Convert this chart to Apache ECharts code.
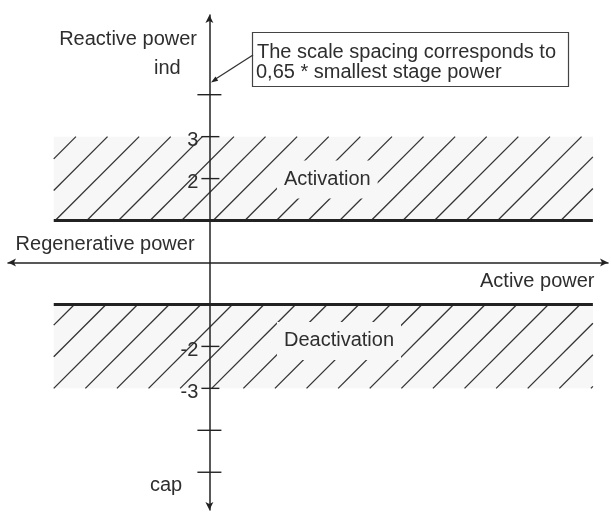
<!DOCTYPE html>
<html><head><meta charset="utf-8">
<script src="https://cdn.jsdelivr.net/npm/echarts@6/dist/echarts.min.js"></script>
<style>html,body{margin:0;padding:0;background:#fff;}#c{width:611px;height:518px;}</style>
</head><body><div id="c"></div>
<script>
// ---- data ----
const xRange = [-4.8, 9.5];
const yRange = [-5.9, 5.9];
const bandNames = ['Activation', 'Deactivation'];
const bandLow = [1, -3];
const bandHigh = [3, -1];
const bandXStart = [-3.71, -3.71];
const bandXEnd = [9.14, 9.14];
const bandEdge = [1, -1];
const tickValues = [4, 3, 2, -2, -3, -4, -5];
const tickLabels = ['', '3', '2', '-2', '-3', '', ''];

// ---- layout / style ----
const FONT = '20px "Liberation Sans", Arial, sans-serif';
const TEXT = '#2e2e2e';
const LINE = '#222';
const BAND_FILL = '#f7f7f7';
const HATCH_SPACING = 31.6;
const HATCH_PHASE = [1.5, 0];
const BAND_LABEL_X = 1.61;
const BAND_LABEL_Y = [1.98, -1.87];

const chart = echarts.init(document.getElementById('c'), null, {renderer: 'canvas'});

function renderBand(params, api) {
  const i = params.dataIndex;
  const p1 = api.coord([bandXStart[i], bandHigh[i]]);
  const p2 = api.coord([bandXEnd[i], bandLow[i]]);
  const xL = p1[0], yT = p1[1], xR = p2[0], yB = p2[1];
  const children = [{type: 'rect', shape: {x: xL, y: yT, width: xR - xL, height: yB - yT}, style: {fill: BAND_FILL}}];
  const s = HATCH_SPACING;
  const c0 = xL + HATCH_PHASE[i] + yB;
  const kmin = -Math.ceil((yB - yT) / s) - 1;
  const kmax = Math.ceil((xR - xL) / s) + 1;
  for (let k = kmin; k <= kmax; k++) {
    const K = c0 + k * s;
    const y1 = Math.max(yT, K - xR);
    const y2 = Math.min(yB, K - xL);
    if (y2 - y1 > 1) {
      children.push({type: 'line', shape: {x1: K - y1, y1: y1, x2: K - y2, y2: y2},
        style: {stroke: '#333', lineWidth: 1.3}});
    }
  }
  const e = api.coord([bandXStart[i], bandEdge[i]]);
  children.push({type: 'line', shape: {x1: xL, y1: e[1], x2: xR, y2: e[1]}, style: {stroke: LINE, lineWidth: 3}});
  const lp = api.coord([BAND_LABEL_X, BAND_LABEL_Y[i]]);
  children.push({type: 'text', x: lp[0], y: lp[1], style: {text: bandNames[i], font: FONT, fill: TEXT,
    align: 'left', verticalAlign: 'middle', backgroundColor: BAND_FILL, padding: [9, 7]}});
  return {type: 'group', children: children};
}

function renderTick(params, api) {
  const i = params.dataIndex;
  const p = api.coord([0, tickValues[i]]);
  const lab = tickLabels[i];
  const l = lab ? 8 : 12, r = lab ? 10 : 12;
  const children = [{type: 'line', shape: {x1: p[0] - l, y1: p[1], x2: p[0] + r, y2: p[1]}, style: {stroke: LINE, lineWidth: 1.4}}];
  if (lab) {
    children.push({type: 'text', x: p[0] - 11, y: p[1] + 4, style: {text: lab, font: FONT, fill: TEXT, align: 'right', verticalAlign: 'middle'}});
  }
  return {type: 'group', children: children};
}

function txt(t, x, y, align) {
  return {type: 'text', x: x, y: y, z: 20, style: {text: t, font: FONT, fill: TEXT, align: align || 'left', verticalAlign: 'middle'}};
}

const axisCommon = {
  type: 'value', z: 5,
  axisLine: {show: true, onZero: true, symbol: ['arrow', 'arrow'], symbolSize: [6, 8], lineStyle: {color: LINE, width: 1.5}},
  axisTick: {show: false}, axisLabel: {show: false}, splitLine: {show: false}
};

chart.setOption({
  animation: false,
  backgroundColor: '#fff',
  grid: {left: 8, right: 3, top: 15, bottom: 8},
  xAxis: Object.assign({}, axisCommon, {min: xRange[0], max: xRange[1]}),
  yAxis: Object.assign({}, axisCommon, {min: yRange[0], max: yRange[1]}),
  series: [
    {type: 'custom', name: 'bands', clip: false, renderItem: renderBand,
     encode: {x: [0, 2], y: [1, 3]},
     data: bandNames.map((n, i) => [bandXStart[i], bandLow[i], bandXEnd[i], bandHigh[i]])},
    {type: 'custom', name: 'ticks', clip: false, z: 10, renderItem: renderTick,
     encode: {x: 0, y: 1},
     data: tickValues.map(v => [0, v])}
  ],
  graphic: [
    txt('Reactive power', 197, 39.5, 'right'),
    txt('ind', 154, 68),
    {type: 'rect', z: 18, shape: {x: 252.5, y: 32.5, width: 316, height: 54}, style: {fill: '#fff', stroke: '#444', lineWidth: 1.2}},
    txt('The scale spacing corresponds to', 257, 52.5),
    txt('0,65 * smallest stage power', 256, 72.5),
    {type: 'line', z: 18, shape: {x1: 253, y1: 55, x2: 214, y2: 80}, style: {stroke: '#333', lineWidth: 1.3}},
    {type: 'polygon', z: 18, shape: {points: [[211, 82.5], [218.2, 80.8], [215.5, 76.6]]}, style: {fill: '#222'}},
    txt('Regenerative power', 15.6, 244.5),
    txt('Active power', 594.5, 281, 'right'),
    txt('cap', 150, 485)
  ]
});
</script></body></html>
